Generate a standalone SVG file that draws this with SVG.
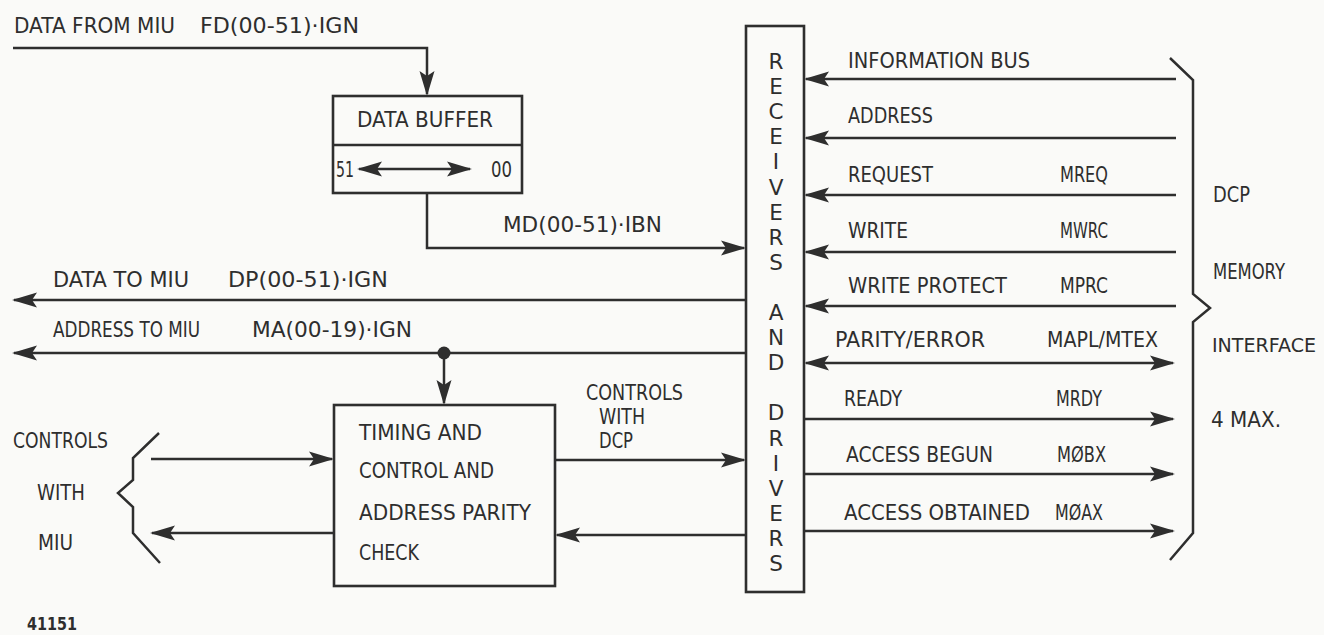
<svg xmlns="http://www.w3.org/2000/svg" width="1324" height="635" viewBox="0 0 1324 635">
<style>
text{font-family:"DejaVu Sans","Liberation Sans",sans-serif;font-size:21.5px;fill:#2e2e2e}
.ln{fill:none;stroke:#2e2e2e;stroke-width:2.5}
.ar{marker-end:url(#ah)}
.ar2{marker-start:url(#ah);marker-end:url(#ah)}
.box{fill:none;stroke:#2e2e2e;stroke-width:2.6}
.rv{text-anchor:middle}
</style>
<defs>
<marker id="ah" markerUnits="userSpaceOnUse" viewBox="-27 -9 30 18" refX="-2" refY="0" markerWidth="30" markerHeight="18" orient="auto-start-reverse">
<path d="M0,0 L-25,-7.5 L-20,0 L-25,7.5 Z" fill="#2e2e2e"/>
</marker>
</defs>
<rect width="1324" height="635" fill="#fafaf8"/>

<g id="connectors">
<path class="ln ar" d="M13,48 H427 V94"/>
<path class="ln ar2" d="M359,169 H470"/>
<path class="ln ar" d="M427,193 V248 H744"/>
<path class="ln ar" d="M746,300 H14"/>
<path class="ln ar" d="M746,353 H14"/>
<circle cx="444" cy="353" r="6.5" fill="#2e2e2e"/>
<path class="ln ar" d="M444,353 V403"/>
<path class="ln ar" d="M555,460 H744"/>
<path class="ln ar" d="M746,535 H557"/>
<path class="ln ar" d="M151,459 H332"/>
<path class="ln ar" d="M334,533 H152"/>
<path class="ln ar" d="M1176,79 H806"/>
<path class="ln ar" d="M1176,138 H806"/>
<path class="ln ar" d="M1176,195 H806"/>
<path class="ln ar" d="M1176,252 H806"/>
<path class="ln ar" d="M1176,306 H806"/>
<path class="ln ar2" d="M806,363 H1173"/>
<path class="ln ar" d="M804,419 H1173"/>
<path class="ln ar" d="M804,474 H1173"/>
<path class="ln ar" d="M804,531 H1173"/>
<path class="ln" d="M1170,58 L1193,80 V294 L1210,308 L1193,322 V533 L1170,560"/>
<path class="ln" d="M159,433 L133,458 V480 L118,493 L133,507 V533 L160,563"/>
</g>

<g id="labels">
<text x="14" y="33" textLength="161" lengthAdjust="spacingAndGlyphs">DATA FROM MIU</text>
<text x="200" y="33" textLength="159" lengthAdjust="spacingAndGlyphs">FD(00-51)·IGN</text>
<text x="503" y="232" textLength="159" lengthAdjust="spacingAndGlyphs">MD(00-51)·IBN</text>
<text x="53" y="287" textLength="136" lengthAdjust="spacingAndGlyphs">DATA TO MIU</text>
<text x="228" y="287" textLength="160" lengthAdjust="spacingAndGlyphs">DP(00-51)·IGN</text>
<text x="53" y="337" textLength="147" lengthAdjust="spacingAndGlyphs">ADDRESS TO MIU</text>
<text x="252" y="337" textLength="160" lengthAdjust="spacingAndGlyphs">MA(00-19)·IGN</text>
<text x="586" y="400" textLength="97" lengthAdjust="spacingAndGlyphs">CONTROLS</text>
<text x="599" y="424" textLength="46" lengthAdjust="spacingAndGlyphs">WITH</text>
<text x="599" y="448" textLength="34" lengthAdjust="spacingAndGlyphs">DCP</text>
<text x="13" y="448" textLength="95" lengthAdjust="spacingAndGlyphs">CONTROLS</text>
<text x="37" y="500" textLength="48" lengthAdjust="spacingAndGlyphs">WITH</text>
<text x="38" y="550" textLength="35" lengthAdjust="spacingAndGlyphs">MIU</text>
<text x="848" y="68" textLength="182" lengthAdjust="spacingAndGlyphs">INFORMATION BUS</text>
<text x="848" y="123" textLength="85" lengthAdjust="spacingAndGlyphs">ADDRESS</text>
<text x="848" y="182" textLength="85" lengthAdjust="spacingAndGlyphs">REQUEST</text>
<text x="1060" y="182" textLength="48" lengthAdjust="spacingAndGlyphs">MREQ</text>
<text x="848" y="238" textLength="60" lengthAdjust="spacingAndGlyphs">WRITE</text>
<text x="1060" y="238" textLength="48" lengthAdjust="spacingAndGlyphs">MWRC</text>
<text x="848" y="293" textLength="159" lengthAdjust="spacingAndGlyphs">WRITE PROTECT</text>
<text x="1060" y="293" textLength="48" lengthAdjust="spacingAndGlyphs">MPRC</text>
<text x="835" y="347" textLength="150" lengthAdjust="spacingAndGlyphs">PARITY/ERROR</text>
<text x="1047" y="347" textLength="111" lengthAdjust="spacingAndGlyphs">MAPL/MTEX</text>
<text x="844" y="406" textLength="58" lengthAdjust="spacingAndGlyphs">READY</text>
<text x="1056" y="406" textLength="46" lengthAdjust="spacingAndGlyphs">MRDY</text>
<text x="846" y="462" textLength="147" lengthAdjust="spacingAndGlyphs">ACCESS BEGUN</text>
<text x="1057" y="462" textLength="49" lengthAdjust="spacingAndGlyphs">MØBX</text>
<text x="844" y="520" textLength="186" lengthAdjust="spacingAndGlyphs">ACCESS OBTAINED</text>
<text x="1055" y="520" textLength="48" lengthAdjust="spacingAndGlyphs">MØAX</text>
<text x="1213" y="202" textLength="37" lengthAdjust="spacingAndGlyphs">DCP</text>
<text x="1213" y="279" textLength="72" lengthAdjust="spacingAndGlyphs">MEMORY</text>
<text x="1212" y="352" textLength="104" lengthAdjust="spacingAndGlyphs" style="font-size:19px">INTERFACE</text>
<text x="1211" y="427" textLength="70" lengthAdjust="spacingAndGlyphs">4 MAX.</text>
<text x="27" y="630" textLength="50" lengthAdjust="spacingAndGlyphs" style="font-weight:bold;font-size:17px">41151</text>
</g>

<g id="data-buffer">
<rect class="box" x="333" y="96" width="189" height="97"/>
<line class="box" x1="333" y1="145" x2="522" y2="145"/>
<text x="357" y="127" textLength="136" lengthAdjust="spacingAndGlyphs">DATA BUFFER</text>
<text x="336" y="177" textLength="18" lengthAdjust="spacingAndGlyphs">51</text>
<text x="491" y="177" textLength="21" lengthAdjust="spacingAndGlyphs">00</text>
</g>

<g id="timing-control">
<rect class="box" x="334" y="405" width="221" height="181"/>
<text x="359" y="440" textLength="123" lengthAdjust="spacingAndGlyphs">TIMING AND</text>
<text x="359" y="478" textLength="135" lengthAdjust="spacingAndGlyphs">CONTROL AND</text>
<text x="359" y="520" textLength="172" lengthAdjust="spacingAndGlyphs">ADDRESS PARITY</text>
<text x="359" y="560" textLength="60" lengthAdjust="spacingAndGlyphs">CHECK</text>
</g>

<g id="receivers-drivers">
<rect class="box" x="746" y="26" width="58" height="566"/>
<text class="rv" x="776" y="69">R</text>
<text class="rv" x="776" y="94.1">E</text>
<text class="rv" x="776" y="119.2">C</text>
<text class="rv" x="776" y="144.3">E</text>
<text class="rv" x="776" y="169.4">I</text>
<text class="rv" x="776" y="194.5">V</text>
<text class="rv" x="776" y="219.6">E</text>
<text class="rv" x="776" y="244.7">R</text>
<text class="rv" x="776" y="269.8">S</text>
<text class="rv" x="776" y="320">A</text>
<text class="rv" x="776" y="345.1">N</text>
<text class="rv" x="776" y="370.2">D</text>
<text class="rv" x="776" y="420.4">D</text>
<text class="rv" x="776" y="445.5">R</text>
<text class="rv" x="776" y="470.6">I</text>
<text class="rv" x="776" y="495.7">V</text>
<text class="rv" x="776" y="520.8">E</text>
<text class="rv" x="776" y="545.9">R</text>
<text class="rv" x="776" y="571">S</text>
</g>
</svg>
